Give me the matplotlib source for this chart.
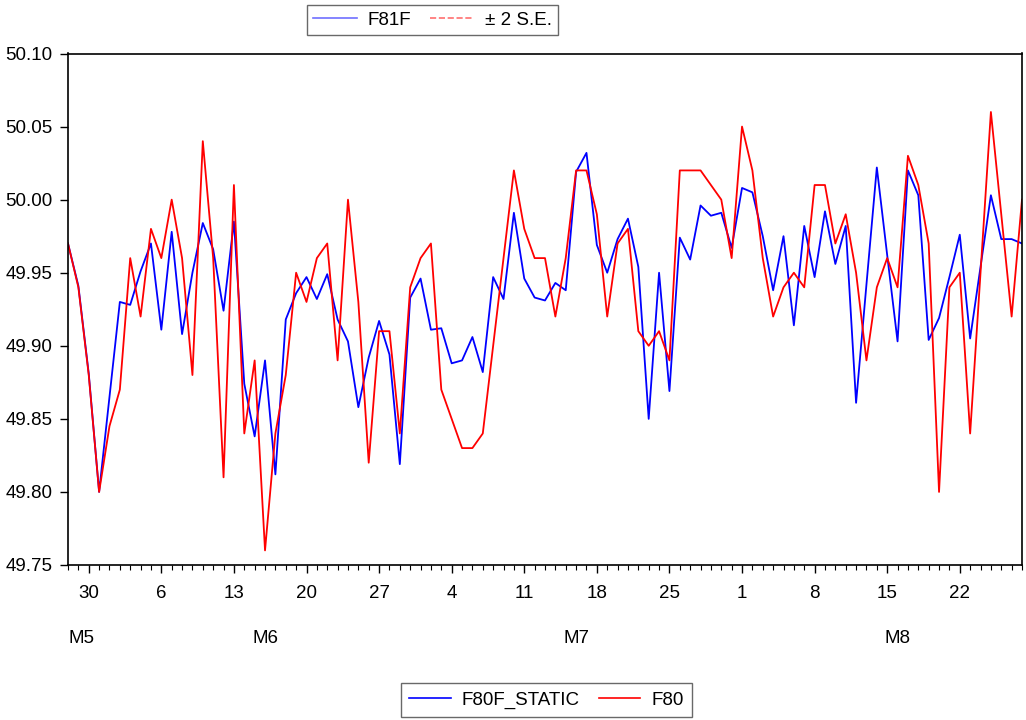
import numpy as np
import pandas as pd
import matplotlib
matplotlib.use('Agg')
import matplotlib.pyplot as plt
import matplotlib.dates as mdates
from matplotlib.lines import Line2D
from matplotlib.ticker import FuncFormatter

plt.rcParams['font.family'] = ['Liberation Sans', 'DejaVu Sans']

# daily sample, 28 May - 28 Aug
dates = pd.date_range('2016-05-28', '2016-08-28', freq='D')

f80f_static = [
    49.970, 49.941, 49.881, 49.800, 49.865, 49.930, 49.928, 49.951, 49.970, 49.911,
    49.978, 49.908, 49.950, 49.984, 49.966, 49.924, 49.985, 49.874, 49.838, 49.890,
    49.812, 49.918, 49.936, 49.947, 49.932, 49.949, 49.918, 49.903, 49.858, 49.892,
    49.917, 49.894, 49.819, 49.933, 49.946, 49.911, 49.912, 49.888, 49.890, 49.906,
    49.882, 49.947, 49.932, 49.991, 49.946, 49.933, 49.931, 49.943, 49.938, 50.019,
    50.032, 49.969, 49.950, 49.973, 49.987, 49.954, 49.850, 49.950, 49.869, 49.974,
    49.959, 49.996, 49.989, 49.991, 49.967, 50.008, 50.005, 49.975, 49.938, 49.975,
    49.914, 49.982, 49.947, 49.992, 49.956, 49.982, 49.861, 49.942, 50.022, 49.962,
    49.903, 50.020, 50.003, 49.904, 49.919, 49.947, 49.976, 49.905, 49.954, 50.003,
    49.973, 49.973, 49.970,
]

f80 = [
    49.97, 49.94, 49.88, 49.80, 49.845, 49.87, 49.96, 49.92, 49.98, 49.96,
    50.00, 49.96, 49.88, 50.04, 49.96, 49.81, 50.01, 49.84, 49.89, 49.76,
    49.84, 49.88, 49.95, 49.93, 49.96, 49.97, 49.89, 50.00, 49.93, 49.82,
    49.91, 49.91, 49.84, 49.94, 49.96, 49.97, 49.87, 49.85, 49.83, 49.83,
    49.84, 49.90, 49.96, 50.02, 49.98, 49.96, 49.96, 49.92, 49.96, 50.02,
    50.02, 49.99, 49.92, 49.97, 49.98, 49.91, 49.90, 49.91, 49.89, 50.02,
    50.02, 50.02, 50.01, 50.00, 49.96, 50.05, 50.02, 49.96, 49.92, 49.94,
    49.95, 49.94, 50.01, 50.01, 49.97, 49.99, 49.95, 49.89, 49.94, 49.96,
    49.94, 50.03, 50.01, 49.97, 49.80, 49.94, 49.95, 49.84, 49.95, 50.06,
    49.99, 49.92, 50.00,
]

month_labels = ['M5', 'M6', 'M7', 'M8']
month_pos = ['2016-05-28', '2016-06-16', '2016-07-16', '2016-08-16']

FS = 13.5
W, H = 1026, 720
fig = plt.figure(figsize=(W / 100, H / 100), dpi=100)
ax = fig.add_axes([68 / W, 1 - 565 / H, (1022 - 68) / W, (565 - 53.5) / H])

ax.plot(dates, f80f_static, color='#0000FF', lw=1.3)
ax.plot(dates, f80, color='#FF0000', lw=1.3)

ax.set_xlim(dates[0], dates[-1])
ax.set_ylim(49.75, 50.10)
ax.set_yticks(np.arange(49.75, 50.101, 0.05))
ax.yaxis.set_major_formatter(FuncFormatter(lambda v, p: f'{v:.2f}'))

# weekly major ticks (same weekday as 30 May), daily minor ticks
wd = pd.Timestamp('2016-05-30').weekday()
ax.xaxis.set_major_locator(mdates.WeekdayLocator(byweekday=wd))
ax.xaxis.set_minor_locator(mdates.DayLocator())
ax.xaxis.set_major_formatter(FuncFormatter(lambda v, p: str(mdates.num2date(v).day)))

ax.tick_params(axis='y', direction='out', length=6, width=1, pad=5, labelsize=FS)
ax.tick_params(axis='x', which='major', direction='out', length=5.5, width=1, pad=9, labelsize=FS)
ax.tick_params(axis='x', which='minor', direction='out', length=3.5, width=0.8)
for s in ax.spines.values():
    s.set_linewidth(1.2)
    s.set_color('black')

for lab, d in zip(month_labels, month_pos):
    x = mdates.date2num(pd.Timestamp(d))
    ax.text(x, -0.143, lab, transform=ax.get_xaxis_transform(),
            ha='left' if lab == 'M5' else 'center', va='center', fontsize=FS)

top_h = [Line2D([], [], color='#6f6fff', lw=1.2),
         Line2D([], [], color='#ff7070', lw=1.2, ls='--')]
fig.legend(top_h, ['F81F', '± 2 S.E.'], loc='upper center', bbox_to_anchor=(432.5 / W, 1 - 5 / H),
           ncol=2, fontsize=FS, frameon=True, fancybox=False, edgecolor='#444444',
           handlelength=2.3, columnspacing=1.0, handletextpad=0.6, borderpad=0.35,
           borderaxespad=0)

bot_h = [Line2D([], [], color='#0000FF', lw=1.2),
         Line2D([], [], color='#FF0000', lw=1.2)]
fig.legend(bot_h, ['F80F_STATIC', 'F80'], loc='upper center', bbox_to_anchor=(546.5 / W, 1 - 683 / H),
           ncol=2, fontsize=FS, frameon=True, fancybox=False, edgecolor='#444444',
           handlelength=2.2, columnspacing=1.0, handletextpad=0.6, borderpad=0.45,
           borderaxespad=0)

fig.savefig('out.png', dpi=100, facecolor='white')
